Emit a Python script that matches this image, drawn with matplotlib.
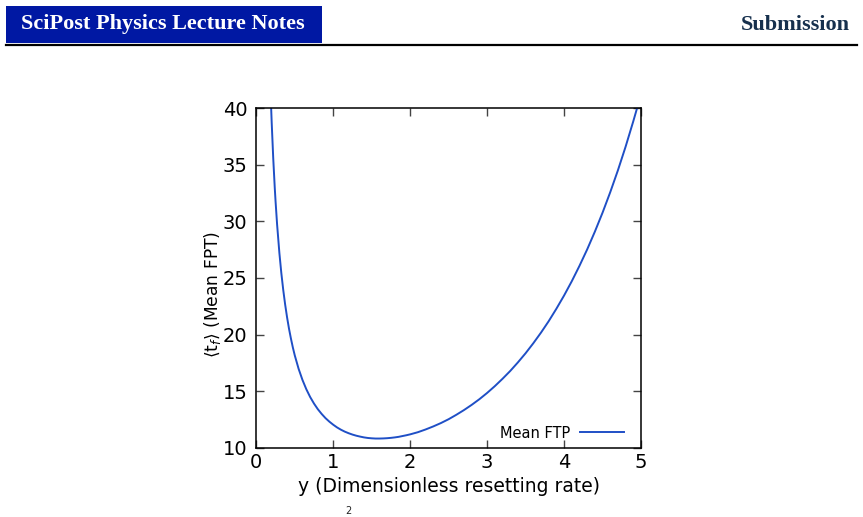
import matplotlib
matplotlib.use("Agg")
import matplotlib.pyplot as plt
from matplotlib.patches import Rectangle
from matplotlib.lines import Line2D

# ---- data ----
y_rate = [0.18, 0.19, 0.20, 0.22, 0.24, 0.25, 0.27, 0.30, 0.325, 0.35, 0.375, 0.40,
          0.425, 0.45, 0.475, 0.50, 0.55, 0.60, 0.65, 0.70, 0.75, 0.80, 0.85, 0.90,
          0.95, 1.00, 1.05, 1.10, 1.15, 1.20, 1.25, 1.30, 1.35, 1.40, 1.45, 1.50,
          1.55, 1.60, 1.65, 1.70, 1.75, 1.80, 1.85, 1.90, 1.95, 2.00, 2.10, 2.20,
          2.30, 2.40, 2.50, 2.60, 2.70, 2.80, 2.90, 3.00, 3.10, 3.20, 3.30, 3.40,
          3.50, 3.60, 3.70, 3.80, 3.90, 4.00, 4.10, 4.20, 4.30, 4.40, 4.50, 4.60,
          4.70, 4.80, 4.90, 4.95, 5.00]
mean_fpt = [42.6, 40.57, 38.75, 35.59, 32.96, 31.81, 29.76, 27.21, 25.45, 23.95, 22.65, 21.52,
            20.52, 19.65, 18.86, 18.16, 16.97, 15.99, 15.17, 14.48, 13.90, 13.40, 12.98, 12.61,
            12.30, 12.03, 11.79, 11.59, 11.42, 11.28, 11.16, 11.06, 10.98, 10.91, 10.86, 10.83,
            10.81, 10.81, 10.82, 10.84, 10.87, 10.91, 10.96, 11.03, 11.10, 11.18, 11.37, 11.61,
            11.88, 12.18, 12.52, 12.91, 13.33, 13.79, 14.29, 14.84, 15.44, 16.09, 16.78, 17.54,
            18.35, 19.23, 20.17, 21.18, 22.28, 23.45, 24.71, 26.07, 27.52, 29.09, 30.77, 32.58,
            34.52, 36.61, 38.86, 40.04, 41.28]
x_ticks = [0, 1, 2, 3, 4, 5]
y_ticks = [10, 15, 20, 25, 30, 35, 40]
series_label = "Mean FTP"
header_left = "SciPost Physics Lecture Notes"
header_right = "Submission"

W, H = 863, 517
fig = plt.figure(figsize=(W / 100, H / 100), dpi=100)

def fx(px):
    return px / W

def fy(py):
    return 1 - py / H

# ---- header ----
fig.patches.append(Rectangle((fx(6), fy(43)), fx(322) - fx(6), fy(6) - fy(43),
                             transform=fig.transFigure, facecolor="#0018a3",
                             edgecolor="none", zorder=1))
fig.lines.append(Line2D([fx(6), fx(857)], [fy(44.8), fy(44.8)], transform=fig.transFigure,
                        color="black", linewidth=1.6, zorder=2))
fig.text(fx(21), fy(24.5), header_left, color="white", fontsize=16,
         family="Liberation Serif", fontweight="bold", ha="left", va="center", zorder=3)
fig.text(fx(850), fy(24.5), header_right, color="#16304d", fontsize=16,
         family="Liberation Serif", fontweight="bold", ha="right", va="center", zorder=3)

# ---- plot ----
ax = fig.add_axes([fx(256.3), fy(447.7), fx(641) - fx(256.3), fy(108.3) - fy(447.7)])
ax.plot(y_rate, mean_fpt, color="#1f4fc6", linewidth=1.4, label=series_label)
ax.set_xlim(0, 5)
ax.set_ylim(10, 40)
ax.set_xticks(x_ticks)
ax.set_yticks(y_ticks)
ax.set_xticklabels([str(t) for t in x_ticks])
ax.set_yticklabels([str(t) for t in y_ticks])
ax.tick_params(direction="in", top=True, right=True, length=6, width=1.0,
               color="#444444", labelsize=14, labelcolor="black")
ax.tick_params(axis="x", pad=3.5)
ax.tick_params(axis="y", pad=6.5)
for s in ax.spines.values():
    s.set_linewidth(1.1)
    s.set_color("black")

fig.text(fx(449), fy(487), "y (Dimensionless resetting rate)", fontsize=13.5,
         ha="center", va="center")
fig.text(fx(212), fy(294.5), r"$\langle \mathrm{t}_f \rangle$ (Mean FPT)", fontsize=12.3,
         rotation=90, ha="center", va="center")

leg = ax.legend(loc="center right", bbox_to_anchor=(0.956, 0.0433), frameon=False,
                markerfirst=False, fontsize=10.5, handlelength=3.0, handletextpad=0.7,
                borderpad=0, borderaxespad=0)

# fragment of the next text line at the bottom edge
fig.text(fx(348), fy(516.5), "2", fontsize=7, family="DejaVu Sans",
         ha="center", va="bottom", color="#222222")

fig.savefig("out.png", dpi=100)
